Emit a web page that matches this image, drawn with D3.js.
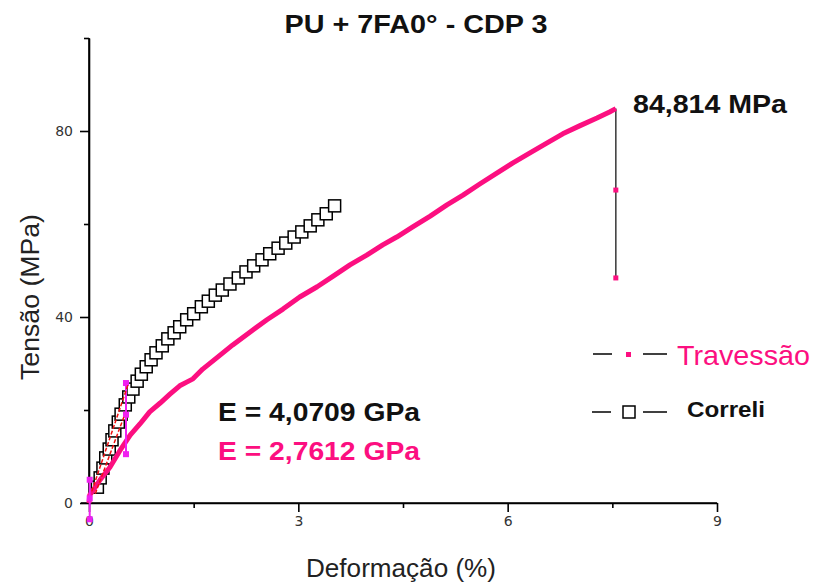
<!DOCTYPE html>
<html>
<head>
<meta charset="utf-8">
<script src="https://cdn.jsdelivr.net/npm/d3@7/dist/d3.min.js"></script>
<style>
body { margin: 0; background: #fff; }
text { font-family: 'Liberation Sans', Arial, sans-serif; }
</style>
</head>
<body>
<div id="chart"></div>
<script>
/* global d3 */

var titleText = 'PU + 7FA0\u00b0 - CDP 3',
xTitle = 'Deformação (%)',
yTitle = 'Tensão (MPa)';

var xTicks = [0, 3, 6, 9],
xMinor = [1.5, 4.5, 7.5],
yTicks = [0, 40, 80],
yMinor = [20, 60, 100];

// Travessão (crosshead) curve
var travX = [0, 0.01, 0.09, 0.16, 0.30, 0.44, 0.59, 0.73, 0.87, 1.02, 1.16, 1.30, 1.40, 1.49, 1.63, 1.83, 2.06, 2.31, 2.55, 2.78, 3.02, 3.27, 3.50, 3.74, 3.98, 4.21, 4.41, 4.64, 4.89, 5.13, 5.36, 5.60, 5.85, 6.07, 6.32, 6.56, 6.79, 7.03, 7.28, 7.46, 7.55];
var travY = [0, 1.7, 3.4, 5.0, 7.7, 11.2, 14.6, 17.0, 19.6, 21.5, 23.4, 25.2, 26.0, 26.7, 28.8, 31.2, 34.0, 36.8, 39.4, 41.7, 44.3, 46.5, 48.8, 51.2, 53.3, 55.5, 57.2, 59.4, 61.7, 64.1, 66.2, 68.6, 71.0, 73.1, 75.3, 77.4, 79.4, 81.1, 82.8, 84.1, 84.814];

// rupture drop after the peak
var dropX = [7.55, 7.55, 7.55],
dropY = [84.814, 67.3, 48.4];

// Correli (video extensometer) points
var corX = [0.12, 0.16, 0.20, 0.24, 0.29, 0.33, 0.37, 0.42, 0.46, 0.52, 0.57, 0.63, 0.69, 0.75, 0.82, 0.89, 0.96, 1.05, 1.13, 1.22, 1.30, 1.40, 1.50, 1.61, 1.71, 1.81, 1.91, 2.02, 2.14, 2.25, 2.36, 2.48, 2.59, 2.71, 2.82, 2.94, 3.05, 3.17, 3.28, 3.40, 3.52];
var corY = [3.4, 5.4, 7.5, 9.7, 11.6, 13.6, 15.5, 17.4, 19.1, 21.1, 22.8, 24.5, 26.2, 27.7, 29.3, 30.8, 32.3, 33.8, 35.3, 36.6, 37.9, 39.4, 40.7, 42.2, 43.4, 44.7, 45.8, 47.1, 48.4, 49.7, 51.0, 52.3, 53.6, 54.8, 55.9, 57.2, 58.3, 59.6, 60.9, 62.2, 63.9];

// linear fits for the modulus
var fitCorX = [0.04, 0.56],
fitCorY = [2.5, 25.5],
fitTravX = [0.09, 0.50],
fitTravY = [2.0, 18.5];

// fit range markers
var rangeX = [0.01, 0.53],
rangeLo = [-3.5, 10.5],
rangeMid = [1.0, 19.0],
rangeHi = [5.0, 25.8];

var peakLabel = '84,814 MPa',
eCorLabel = 'E = 4,0709 GPa',
eTravLabel = 'E = 2,7612 GPa';

var w = 819,
h = 585,
pink = '#fc0f80',
magenta = '#f020f0';

var svg = d3.
select('#chart').
append('svg').
attr('width', w).
attr('height', h);

var x = d3.scaleLinear().domain([0, 9]).range([89, 717]);
var y = d3.scaleLinear().domain([0, 100]).range([503, 38]);

// axes
var xAxis = svg.append('g').
attr('transform', 'translate(0,' + y(0) + ')').
call(d3.axisBottom(x).tickValues(xTicks).tickSize(9).tickPadding(4).tickSizeOuter(0));
svg.append('g').
attr('transform', 'translate(0,' + y(0) + ')').
call(d3.axisBottom(x).tickValues(xMinor).tickSize(5).tickFormat('').tickSizeOuter(0));

var yAxis = svg.append('g').
attr('transform', 'translate(' + x(0) + ',0)').
call(d3.axisLeft(y).tickValues(yTicks).tickSize(9).tickPadding(7).tickSizeOuter(0));
svg.append('g').
attr('transform', 'translate(' + x(0) + ',0)').
call(d3.axisLeft(y).tickValues(yMinor).tickSize(5).tickFormat('').tickSizeOuter(0));

svg.selectAll('.domain, .tick line').
attr('stroke', '#000').
attr('stroke-width', 1.6);
svg.selectAll('.tick text').
attr('fill', '#333').
style('font-size', '14px').
style('font-family', 'Tahoma, "DejaVu Sans", sans-serif');
xAxis.selectAll('.domain').attr('d', 'M' + (x(0) - 8) + ',0H' + x(9));
yAxis.selectAll('.domain').attr('d', 'M0,' + y(0) + 'V' + y(100));

// titles
svg.append('text').
attr('x', 416).attr('y', 33).
attr('text-anchor', 'middle').
attr('font-weight', 'bold').
attr('font-size', 25).
attr('textLength', 263).
attr('lengthAdjust', 'spacingAndGlyphs').
attr('fill', '#111').
text(titleText);

svg.append('text').
attr('x', 401).attr('y', 577).
attr('text-anchor', 'middle').
attr('font-size', 26).
attr('textLength', 190).
attr('lengthAdjust', 'spacingAndGlyphs').
attr('fill', '#222').
text(xTitle);

svg.append('text').
attr('transform', 'translate(39,297) rotate(-90)').
attr('text-anchor', 'middle').
attr('font-size', 26).
attr('textLength', 166).
attr('lengthAdjust', 'spacingAndGlyphs').
attr('fill', '#222').
text(yTitle);

var line = d3.line().x(function (d) { return x(d[0]); }).y(function (d) { return y(d[1]); });

// rupture drop
svg.append('path').
datum(d3.zip(dropX, dropY)).
attr('d', line).
attr('fill', 'none').
attr('stroke', '#444').
attr('stroke-width', 1.6);
svg.selectAll('.dropPt').
data(d3.zip(dropX, dropY).slice(1)).
enter().
append('rect').
attr('x', d => x(d[0]) - 2.5).
attr('y', d => y(d[1]) - 2.5).
attr('width', 5).attr('height', 5).
attr('fill', pink);

// Correli line + squares
svg.append('path').
datum(d3.zip(corX, corY)).
attr('d', line).
attr('fill', 'none').
attr('stroke', '#000').
attr('stroke-width', 1.2);
svg.selectAll('.cor').
data(d3.zip(corX, corY)).
enter().
append('rect').
attr('x', d => x(d[0]) - 6).
attr('y', d => y(d[1]) - 6).
attr('width', 12).attr('height', 12).
attr('fill', '#fff').
attr('stroke', '#000').
attr('stroke-width', 1.5);

// Travessão curve
svg.append('path').
datum(d3.zip(travX, travY)).
attr('d', line).
attr('fill', 'none').
attr('stroke', pink).
attr('stroke-width', 5).
attr('stroke-linejoin', 'round');

// fit ranges
rangeX.forEach(function (rx, i) {
  svg.append('line').
  attr('x1', x(rx)).attr('x2', x(rx)).
  attr('y1', y(rangeLo[i])).attr('y2', y(rangeHi[i])).
  attr('stroke', magenta).
  attr('stroke-width', 2);
  [rangeLo[i], rangeMid[i], rangeHi[i]].forEach(function (ry) {
    svg.append('rect').
    attr('x', x(rx) - 3).attr('y', y(ry) - 3).
    attr('width', 6).attr('height', 6).
    attr('fill', magenta);
  });
});

// fit lines
[[fitCorX, fitCorY], [fitTravX, fitTravY]].forEach(function (f) {
  svg.append('path').
  datum(d3.zip(f[0], f[1])).
  attr('d', line).
  attr('stroke', '#f01010').
  attr('stroke-width', 1.5).
  attr('stroke-dasharray', '4,2').
  attr('fill', 'none');
});

// annotations
svg.append('text').
attr('x', 633).attr('y', 113).
attr('font-weight', 'bold').
attr('font-size', 25).
attr('textLength', 154).
attr('lengthAdjust', 'spacingAndGlyphs').
attr('fill', '#111').
text(peakLabel);

svg.append('text').
attr('x', 218).attr('y', 421).
attr('font-weight', 'bold').
attr('font-size', 26).
attr('textLength', 202).
attr('lengthAdjust', 'spacingAndGlyphs').
attr('fill', '#111').
text(eCorLabel);

svg.append('text').
attr('x', 218).attr('y', 460).
attr('font-weight', 'bold').
attr('font-size', 26).
attr('textLength', 202).
attr('lengthAdjust', 'spacingAndGlyphs').
attr('fill', pink).
text(eTravLabel);

// legend
var lg = svg.append('g');
lg.append('line').attr('x1', 593).attr('x2', 612).attr('y1', 354).attr('y2', 354).attr('stroke', '#000').attr('stroke-width', 1.5);
lg.append('line').attr('x1', 643).attr('x2', 667).attr('y1', 354).attr('y2', 354).attr('stroke', '#000').attr('stroke-width', 1.5);
lg.append('rect').attr('x', 626).attr('y', 352).attr('width', 5).attr('height', 5).attr('fill', pink);
lg.append('text').
attr('x', 677).attr('y', 365).
attr('font-size', 28).
attr('textLength', 133).
attr('lengthAdjust', 'spacingAndGlyphs').
attr('fill', pink).
text('Travessão');

lg.append('line').attr('x1', 592).attr('x2', 611).attr('y1', 412).attr('y2', 412).attr('stroke', '#000').attr('stroke-width', 1.5);
lg.append('line').attr('x1', 643).attr('x2', 667).attr('y1', 412).attr('y2', 412).attr('stroke', '#000').attr('stroke-width', 1.5);
lg.append('rect').attr('x', 623).attr('y', 406).attr('width', 12).attr('height', 12).attr('fill', '#fff').attr('stroke', '#000').attr('stroke-width', 1.5);
lg.append('text').
attr('x', 687).attr('y', 417).
attr('font-weight', 'bold').
attr('font-size', 22).
attr('textLength', 78).
attr('lengthAdjust', 'spacingAndGlyphs').
attr('fill', '#111').
text('Correli');
</script>
</body>
</html>
